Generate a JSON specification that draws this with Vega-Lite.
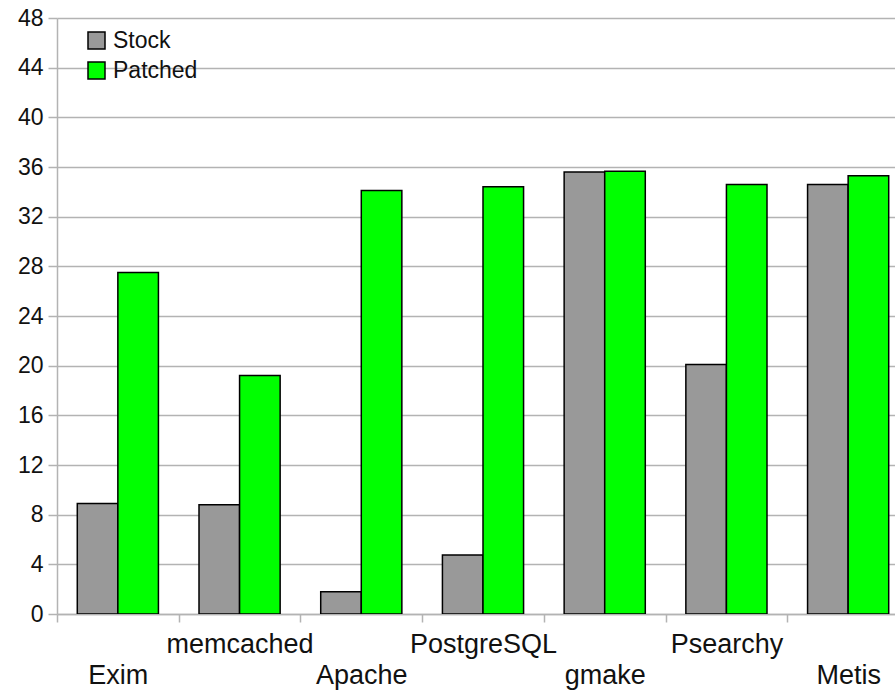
{
  "$schema": "https://vega.github.io/schema/vega-lite/v6.json",
  "autosize": "none",
  "width": 838,
  "height": 596,
  "padding": {"left": 57, "top": 18, "right": 0, "bottom": 76},
  "background": "white",
  "data": {
    "values": [
      {"app": "Exim", "kernel": "Stock", "value": 8.9},
      {"app": "Exim", "kernel": "Patched", "value": 27.5},
      {"app": "memcached", "kernel": "Stock", "value": 8.8},
      {"app": "memcached", "kernel": "Patched", "value": 19.2},
      {"app": "Apache", "kernel": "Stock", "value": 1.8},
      {"app": "Apache", "kernel": "Patched", "value": 34.1},
      {"app": "PostgreSQL", "kernel": "Stock", "value": 4.75},
      {"app": "PostgreSQL", "kernel": "Patched", "value": 34.4},
      {"app": "gmake", "kernel": "Stock", "value": 35.6},
      {"app": "gmake", "kernel": "Patched", "value": 35.65},
      {"app": "Psearchy", "kernel": "Stock", "value": 20.1},
      {"app": "Psearchy", "kernel": "Patched", "value": 34.6},
      {"app": "Metis", "kernel": "Stock", "value": 34.6},
      {"app": "Metis", "kernel": "Patched", "value": 35.3}
    ]
  },
  "mark": {"type": "bar", "stroke": "#000000", "strokeWidth": 1.5, "clip": true},
  "encoding": {
    "x": {
      "field": "app",
      "type": "nominal",
      "sort": null,
      "title": null,
      "scale": {"paddingInner": 0, "paddingOuter": 0, "range": [0, 852]},
      "axis": {
        "labelAngle": 0,
        "tickBand": "extent",
        "tickSize": 8,
        "tickColor": "#b3b3b3",
        "tickWidth": 1.5,
        "domainColor": "#b3b3b3",
        "domainWidth": 1.5,
        "labelFont": "Liberation Sans",
        "labelFontSize": 27,
        "labelColor": "#111111",
        "labelBaseline": "alphabetic",
        "labelPadding": 30,
        "labelLineHeight": 31,
        "labelExpr": "indexof(['memcached','PostgreSQL','Psearchy'], datum.value) >= 0 ? datum.value : ['', datum.value]"
      }
    },
    "xOffset": {
      "field": "kernel",
      "type": "nominal",
      "sort": ["Stock", "Patched"],
      "scale": {"paddingInner": 0, "paddingOuter": 0.5}
    },
    "y": {
      "field": "value",
      "type": "quantitative",
      "title": null,
      "scale": {"domain": [0, 48], "nice": false},
      "axis": {
        "values": [0, 4, 8, 12, 16, 20, 24, 28, 32, 36, 40, 44, 48],
        "tickSize": 9,
        "tickColor": "#b3b3b3",
        "tickWidth": 1.5,
        "domainColor": "#b3b3b3",
        "domainWidth": 1.5,
        "gridColor": "#b3b3b3",
        "gridWidth": 1.5,
        "labelFont": "Liberation Sans",
        "labelFontSize": 23,
        "labelColor": "#111111",
        "labelPadding": 5
      }
    },
    "color": {
      "field": "kernel",
      "type": "nominal",
      "sort": ["Stock", "Patched"],
      "scale": {"domain": ["Stock", "Patched"], "range": ["#999999", "#00ff00"]},
      "legend": {
        "title": null,
        "orient": "none",
        "legendX": 28,
        "legendY": 11,
        "padding": 0,
        "symbolType": "square",
        "symbolSize": 289,
        "symbolStrokeColor": "#000000",
        "symbolStrokeWidth": 1.5,
        "symbolOpacity": 1,
        "labelFont": "Liberation Sans",
        "labelFontSize": 23,
        "labelColor": "#111111",
        "labelOffset": 5,
        "rowPadding": 6
      }
    }
  },
  "config": {"view": {"stroke": null}}
}
